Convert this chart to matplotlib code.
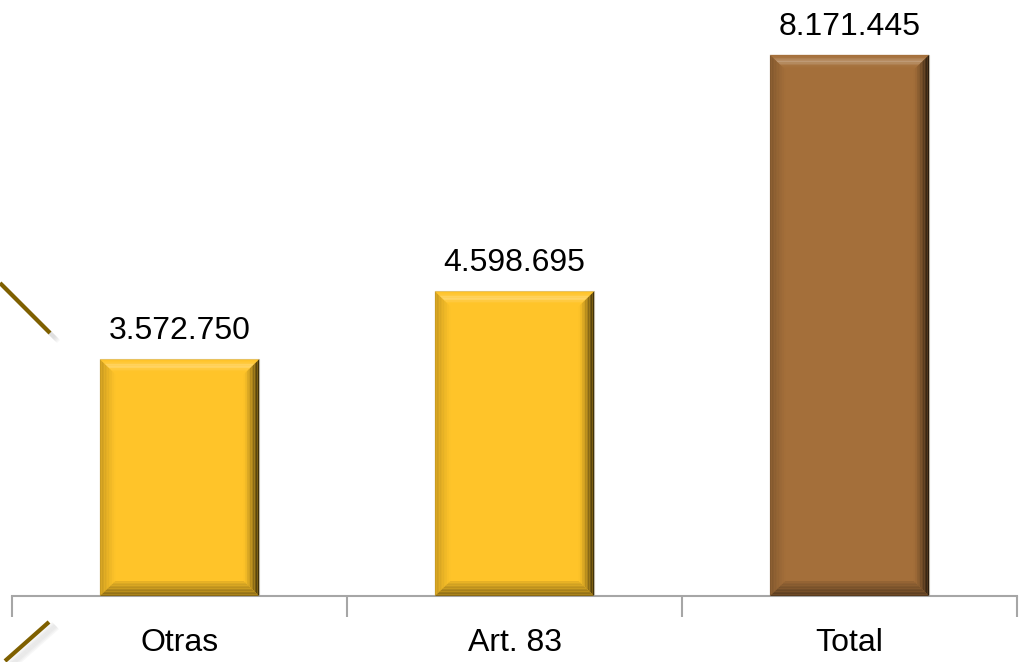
import numpy as np
import matplotlib
matplotlib.use("Agg")
import matplotlib.pyplot as plt
from matplotlib.patches import Polygon
from matplotlib.lines import Line2D
import matplotlib.colors as mcolors

categories = ["Otras", "Art. 83", "Total"]
values = [3572750, 4598695, 8171445]
labels = ["3.572.750", "4.598.695", "8.171.445"]
face_colors = ["#FFC429", "#FFC429", "#A46F3A"]

plt.rcParams["font.family"] = ["Liberation Sans", "DejaVu Sans"]
fsize = 23

fig = plt.figure(figsize=(10.25, 6.62), dpi=100)
ax = fig.add_axes([12 / 1025, 1 - 596 / 662, 1005 / 1025, 596 / 662])
ax.set_xlim(-0.5, 2.5)
ax.set_ylim(0, 9.0e6)

width = 0.475
bx = 0.046          # bevel in x (data units)
by = 15 / 596 * 9.0e6  # bevel in y


def mix(c1, c2, t):
    a = np.array(mcolors.to_rgb(c1))
    b = np.array(mcolors.to_rgb(c2))
    return tuple(a + (b - a) * t)


def bevel_bar(x, h, col):
    x0, x1 = x - width / 2, x + width / 2
    ax.add_patch(Polygon([(x0, 0), (x1, 0), (x1, h), (x0, h)], closed=True,
                         facecolor=col, edgecolor="#c8c0b0", lw=0.8, zorder=2))
    n = 10
    for i in range(n):
        t0, t1 = i / n, (i + 1) / n
        tm = (t0 + t1) / 2
        # top bevel: light band in the middle
        ct = mix(col, "#ffffff", 0.3 * np.exp(-((tm - 0.45) / 0.2) ** 2))
        ax.add_patch(Polygon([(x0 + bx * t0, h - by * t0), (x1 - bx * t0, h - by * t0),
                              (x1 - bx * t1, h - by * t1), (x0 + bx * t1, h - by * t1)],
                             closed=True, facecolor=ct, edgecolor="none", zorder=3))
        # right bevel: dark at the outer edge
        cr = mix(col, "#000000", 0.8 * (1 - tm) ** 1.3)
        ax.add_patch(Polygon([(x1 - bx * t0, h - by * t0), (x1 - bx * t1, h - by * t1),
                              (x1 - bx * t1, by * t1), (x1 - bx * t0, by * t0)],
                             closed=True, facecolor=cr, edgecolor="none", zorder=3))
        # left bevel: slightly darker
        cl = mix(col, "#000000", 0.22 * (1 - tm))
        ax.add_patch(Polygon([(x0 + bx * t0, h - by * t0), (x0 + bx * t1, h - by * t1),
                              (x0 + bx * t1, by * t1), (x0 + bx * t0, by * t0)],
                             closed=True, facecolor=cl, edgecolor="none", zorder=3))
        # bottom bevel: darker
        cb = mix(col, "#000000", 0.4 * (1 - tm) + 0.08)
        ax.add_patch(Polygon([(x0 + bx * t0, by * t0), (x1 - bx * t0, by * t0),
                              (x1 - bx * t1, by * t1), (x0 + bx * t1, by * t1)],
                             closed=True, facecolor=cb, edgecolor="none", zorder=3))


for i, (v, c) in enumerate(zip(values, face_colors)):
    bevel_bar(i, v, c)
    ax.text(i, v + 0.2e6, labels[i], ha="center", va="bottom", fontsize=fsize, color="#000000")

for s in ["top", "right", "left"]:
    ax.spines[s].set_visible(False)
ax.spines["bottom"].set_color("#A6A6A6")
ax.spines["bottom"].set_linewidth(1.5)
ax.set_yticks([])
ax.set_xticks(range(len(categories)))
ax.set_xticklabels(categories, fontsize=fsize)
ax.tick_params(axis="x", which="major", length=0, pad=23)
ax.set_xticks([-0.5, 0.5, 1.5, 2.5], minor=True)
ax.tick_params(axis="x", which="minor", length=15, width=1.5, color="#A6A6A6")

# decorative strokes on the left edge, with a soft shadow
for (xs, ys) in [([0, 50], [283, 333]), ([5, 49], [661, 622])]:
    fx = [p / 1025 for p in xs]
    fy = [1 - p / 662 for p in ys]
    for k in range(1, 6):
        fig.add_artist(Line2D([f + (2 + k) / 1025 for f in fx], [f - (2 + k) / 662 for f in fy],
                              transform=fig.transFigure, color="#c0c0c0", lw=3, alpha=0.12))
    fig.add_artist(Line2D(fx, fy, transform=fig.transFigure, color="#7F6000", lw=3,
                          solid_capstyle="butt"))

fig.savefig("out.png", dpi=100)
